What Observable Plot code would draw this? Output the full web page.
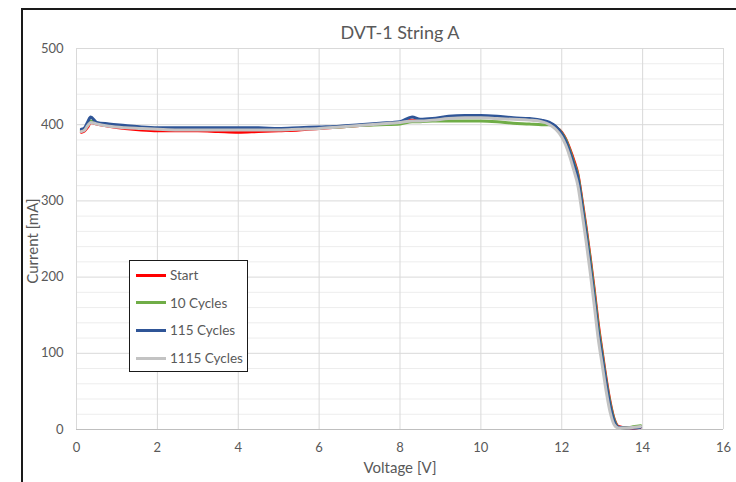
<!DOCTYPE html>
<html>
<head>
<meta charset="utf-8">
<script src="https://cdn.jsdelivr.net/npm/d3@7"></script>
<script src="https://cdn.jsdelivr.net/npm/@observablehq/plot@0.6"></script>
<style>
  html, body { margin: 0; padding: 0; background: #fff; }
  #wrap { position: relative; width: 736px; height: 482px; overflow: hidden; font-family: Lato, "Open Sans", sans-serif; }
  #border { position: absolute; left: 21px; top: 8px; width: 900px; height: 700px; border-left: 2px solid #1a1a1a; border-top: 2px solid #1a1a1a; pointer-events: none; }
  #legend { position: absolute; left: 129px; top: 260px; width: 119px; height: 112px; border: 1.5px solid #1a1a1a; background: #fff; box-sizing: border-box; }
  .item { position: absolute; left: 6px; height: 16px; display: flex; align-items: center; font-size: 13.5px; color: #595959; }
  .sw { width: 30px; height: 3px; margin-right: 4px; }
</style>
</head>
<body>
<div id="wrap"><div id="border"></div></div>
<script>
const title = "DVT-1 String A";
const xLabel = "Voltage [V]";
const yLabel = "Current [mA]";
const seriesNames = ["Start", "10 Cycles", "115 Cycles", "1115 Cycles"];
const seriesColors = ["#ff0000", "#70ad47", "#2f5597", "#c3c3c3"];
const xTicks = [0, 2, 4, 6, 8, 10, 12, 14, 16];
const yTicks = [0, 100, 200, 300, 400, 500];
const yMinorTicks = [20, 40, 60, 80, 120, 140, 160, 180, 220, 240, 260, 280, 320, 340, 360, 380, 420, 440, 460, 480];

const voltage = [0.12,0.2,0.28,0.35,0.5,0.8,1.2,1.6,2.0,2.5,3.0,3.5,4.0,4.5,5.0,5.5,6.0,6.5,7.0,7.5,8.0,8.3,8.5,8.8,9.2,9.6,10.0,10.4,10.8,11.2,11.5,11.7,11.85,12.0,12.1,12.2,12.3,12.4,12.5,12.6,12.7,12.8,12.9,13.0,13.1,13.2,13.3,13.4,13.6,13.8,13.95];
const startI = [390,392,397,403,401,398,395,393,392,392,392,391,390,391,392,393,395,397,399,401,403,406,405,407,409,410,410,409,408,407,405,402,397,390,381,368,353,335,302,266,227,185,140,102,66,35,13,4,2,2,3];
const cycles10I = [392,394,400,405,402,399,397,396,395,394,394,394,394,394,394,395,396,397,399,400,401,404,404,405,405,405,405,404,402,401,400,400,397,389,380,366,350,333,299,263,224,181,136,99,63,33,12,3,2,4,5];
const cycles115I = [394,396,404,410,403,401,399,397,396,396,396,396,396,396,395,396,397,398,400,402,404,410,407,408,411,412,412,411,409,408,406,403,398,388,378,364,348,330,295,258,218,175,130,95,60,30,10,3,2,2,3];
const cycles1115I = [391,393,399,403,401,398,396,395,394,393,393,393,393,393,393,394,395,397,399,401,403,405,405,406,408,409,409,408,407,406,404,400,394,384,373,358,340,320,285,248,208,165,120,85,50,22,6,2,2,3,4];

const seriesValues = [startI, cycles10I, cycles115I, cycles1115I];
const data = seriesNames.flatMap((name, k) => voltage.map((v, i) => ({series: name, v, i: seriesValues[k][i]})));

const font = "Lato, 'Open Sans', sans-serif";
const chart = Plot.plot({
  width: 736,
  height: 482,
  marginLeft: 76,
  marginRight: 13,
  marginTop: 48,
  marginBottom: 53,
  style: {fontFamily: font, background: "transparent"},
  x: {domain: [0, 16]},
  y: {domain: [0, 500]},
  color: {domain: seriesNames, range: seriesColors},
  marks: [
    Plot.gridY(yMinorTicks, {stroke: "#ededed", strokeOpacity: 1, strokeWidth: 1}),
    Plot.gridY(yTicks, {stroke: "#d9d9d9", strokeOpacity: 1, strokeWidth: 1}),
    Plot.gridX(xTicks, {stroke: "#d9d9d9", strokeOpacity: 1, strokeWidth: 1}),
    Plot.ruleY([0], {stroke: "#bfbfbf", strokeWidth: 1.2}),
    Plot.line(data, {x: "v", y: "i", z: "series", stroke: "series", strokeWidth: 3, curve: "monotone-x", strokeLinejoin: "round"}),
    Plot.axisX(xTicks, {tickSize: 0, tickPadding: 13, fontSize: 13, fill: "#595959", label: null}),
    Plot.axisY(yTicks, {tickSize: 0, tickPadding: 13, fontSize: 13, fill: "#595959", label: null}),
    Plot.text([title], {frameAnchor: "top", lineAnchor: "middle", dy: -15, fontSize: 18, fill: "#595959"}),
    Plot.text([xLabel], {frameAnchor: "bottom", lineAnchor: "middle", dy: 39, fontSize: 15, fill: "#595959"}),
    Plot.text([yLabel], {frameAnchor: "left", textAnchor: "middle", lineAnchor: "middle", dx: -43, dy: 2, rotate: -90, fontSize: 15, fill: "#595959"})
  ]
});
const wrap = document.getElementById("wrap");
wrap.insertBefore(chart, wrap.firstChild);

const legend = document.createElement("div");
legend.id = "legend";
seriesNames.forEach((name, k) => {
  const item = document.createElement("div");
  item.className = "item";
  item.style.top = (6 + k * 27.7) + "px";
  const sw = document.createElement("div");
  sw.className = "sw";
  sw.style.background = seriesColors[k];
  const t = document.createElement("span");
  t.textContent = name;
  item.appendChild(sw);
  item.appendChild(t);
  legend.appendChild(item);
});
wrap.appendChild(legend);
</script>
</body>
</html>
